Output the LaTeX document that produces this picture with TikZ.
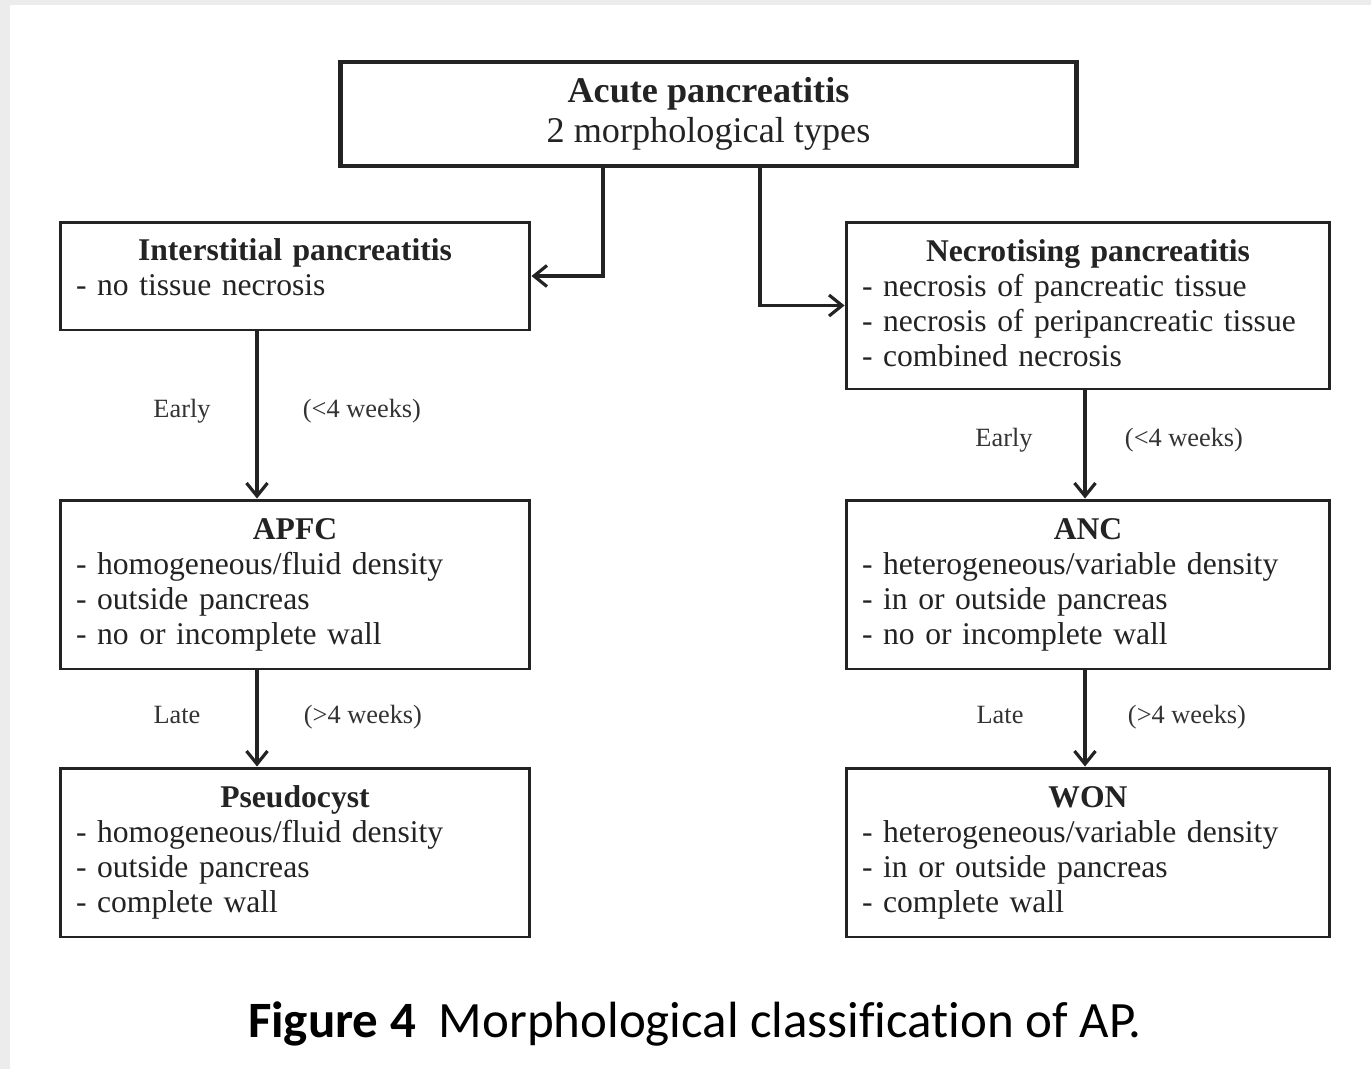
\documentclass[tikz,border=0pt]{standalone}
\usepackage{fontspec}
\setmainfont{Liberation Serif}
\newfontfamily\captionfont[Ligatures=CommonOff]{Carlito}
\usetikzlibrary{arrows.meta,positioning}
\definecolor{boxline}{RGB}{35,35,35}
\definecolor{pagegray}{RGB}{236,236,236}

\begin{document}
\begin{tikzpicture}[x=0.02cm, y=-0.02cm,
  box/.style={draw=boxline, line width=1.7pt, text=boxline, align=left, inner xsep=0.32cm, font=\fontsize{18}{19.9}\selectfont},
  flow/.style={-{Straight Barb[length=0.26cm,width=0.42cm]}, draw=boxline, line width=1.8pt},
  phase/.style={font=\fontsize{15}{17}\selectfont, text=black!80, inner sep=0pt, text height=1.6ex, text depth=0.45ex}]
  \useasboundingbox (0,0) rectangle (1371,1069);
  \fill[pagegray] (0,0) rectangle (1371,1069);
  \fill[white] (10,5) rectangle (1371,1069);

  \node[box, line width=2.8pt, align=center, minimum width=14.74cm, minimum height=2.08cm, font=\fontsize{20.6}{22.7}\selectfont] (top) at (708.5,114) {\textbf{Acute pancreatitis}\\2 morphological types};

  \node[box, text width=8.76cm, minimum height=2.16cm] (inter) at (295,276) {{\centering\bfseries Interstitial pancreatitis\par}- no tissue necrosis\par\vspace*{0.34cm}};
  \node[box, text width=9.04cm, minimum height=3.34cm] (necro) at (1088,305.5) {{\centering\bfseries Necrotising pancreatitis\par}- necrosis of pancreatic tissue\\- necrosis of peripancreatic tissue\\- combined necrosis\par\vspace*{0.1cm}};

  \node[box, text width=8.76cm, minimum height=3.38cm] (apfc) at (295,584.5) {{\centering\bfseries APFC\par}- homogeneous/fluid density\\- outside pancreas\\- no or incomplete wall};
  \node[box, text width=9.04cm, minimum height=3.38cm] (anc) at (1088,584.5) {{\centering\bfseries ANC\par}- heterogeneous/variable density\\- in or outside pancreas\\- no or incomplete wall};

  \node[box, text width=8.76cm, minimum height=3.38cm] (pseudo) at (295,852.5) {{\centering\bfseries Pseudocyst\par}- homogeneous/fluid density\\- outside pancreas\\- complete wall};
  \node[box, text width=9.04cm, minimum height=3.38cm] (won) at (1088,852.5) {{\centering\bfseries WON\par}- heterogeneous/variable density\\- in or outside pancreas\\- complete wall};

  % branches from the top box
  \draw[flow] ([xshift=-2.11cm]top.south) |- (inter.east);
  \draw[flow] ([xshift=1.03cm]top.south) |- (necro.west);

  % early and late phases
  \draw[flow] ([xshift=-0.76cm]inter.south) -- ([xshift=-0.76cm]apfc.north)
    node[phase, pos=.485, xshift=-1.5cm] (early1) {Early}
    node[phase, pos=.485, xshift=2.1cm] (weeks1) {(<4 weeks)};
  \draw[flow] ([xshift=-0.76cm]apfc.south) -- ([xshift=-0.76cm]pseudo.north)
    node[phase, pos=.5, xshift=-1.6cm] (late1) {Late}
    node[phase, pos=.5, xshift=2.12cm] (weeks2) {(>4 weeks)};
  \draw[flow] ([xshift=-0.06cm]necro.south) -- ([xshift=-0.06cm]anc.north)
    node[phase, pos=.48, xshift=-1.62cm] (early2) {Early}
    node[phase, pos=.48, xshift=1.98cm] (weeks3) {(<4 weeks)};
  \draw[flow] ([xshift=-0.06cm]anc.south) -- ([xshift=-0.06cm]won.north)
    node[phase, pos=.5, xshift=-1.7cm] (late2) {Late}
    node[phase, pos=.5, xshift=2.04cm] (weeks4) {(>4 weeks)};

  \node[font=\captionfont\fontsize{29}{31}\selectfont, anchor=base, text=black] (caption) at (695,1037) {\textbf{Figure 4}\hspace{0.45em}Morphological classification of AP.};
\end{tikzpicture}
\end{document}
